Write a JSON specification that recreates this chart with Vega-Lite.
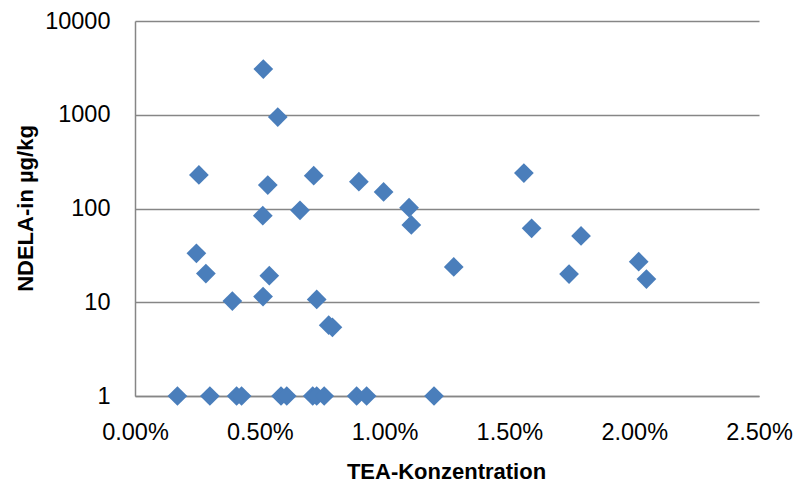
{
  "$schema": "https://vega.github.io/schema/vega-lite/v6.json",
  "autosize": {"type": "none"},
  "padding": {"left": 135, "top": 21, "right": 34, "bottom": 85},
  "width": 624,
  "height": 375,
  "background": "white",
  "config": {
    "view": {"stroke": null},
    "font": "Liberation Sans"
  },
  "data": {
    "values": [
      {"tea": 0.00514, "ndela": 3076},
      {"tea": 0.00572, "ndela": 946},
      {"tea": 0.00256, "ndela": 228},
      {"tea": 0.00532, "ndela": 178},
      {"tea": 0.00716, "ndela": 224},
      {"tea": 0.00897, "ndela": 193},
      {"tea": 0.00996, "ndela": 150},
      {"tea": 0.01098, "ndela": 102},
      {"tea": 0.01107, "ndela": 66.7},
      {"tea": 0.00512, "ndela": 83.8},
      {"tea": 0.00661, "ndela": 95.7},
      {"tea": 0.00246, "ndela": 33.3},
      {"tea": 0.00284, "ndela": 20.2},
      {"tea": 0.00538, "ndela": 19.2},
      {"tea": 0.0039, "ndela": 10.3},
      {"tea": 0.00513, "ndela": 11.5},
      {"tea": 0.00728, "ndela": 10.7},
      {"tea": 0.00776, "ndela": 5.7},
      {"tea": 0.00791, "ndela": 5.4},
      {"tea": 0.0017, "ndela": 1},
      {"tea": 0.003, "ndela": 1},
      {"tea": 0.00407, "ndela": 1},
      {"tea": 0.00427, "ndela": 1},
      {"tea": 0.00585, "ndela": 1},
      {"tea": 0.00608, "ndela": 1},
      {"tea": 0.00712, "ndela": 1},
      {"tea": 0.00728, "ndela": 1},
      {"tea": 0.00758, "ndela": 1},
      {"tea": 0.00888, "ndela": 1},
      {"tea": 0.00928, "ndela": 1},
      {"tea": 0.01198, "ndela": 1},
      {"tea": 0.01558, "ndela": 239},
      {"tea": 0.01589, "ndela": 61.5},
      {"tea": 0.01787, "ndela": 50.9},
      {"tea": 0.01277, "ndela": 23.8},
      {"tea": 0.01739, "ndela": 20.0},
      {"tea": 0.02018, "ndela": 27.1},
      {"tea": 0.02049, "ndela": 17.7}
    ]
  },
  "mark": {"type": "point", "shape": "diamond", "filled": true, "size": 390, "color": "#4a7ebb", "opacity": 1, "clip": false},
  "encoding": {
    "x": {
      "field": "tea",
      "type": "quantitative",
      "scale": {"domain": [0, 0.025], "nice": false, "zero": true},
      "axis": {
        "title": "TEA-Konzentration",
        "values": [0, 0.005, 0.01, 0.015, 0.02, 0.025],
        "format": ".2%",
        "grid": false,
        "ticks": false,
        "domain": true,
        "domainColor": "#868686",
        "domainWidth": 1.5,
        "labelFontSize": 23.5,
        "labelColor": "#000000",
        "labelPadding": 24,
        "labelFlush": false,
        "labelOverlap": false,
        "titleFontSize": 22,
        "titleFontWeight": "bold",
        "titleColor": "#000000",
        "titleBaseline": "alphabetic",
        "titleY": 82,
        "titleX": 311
      }
    },
    "y": {
      "field": "ndela",
      "type": "quantitative",
      "scale": {"type": "log", "domain": [1, 10000], "nice": false},
      "axis": {
        "title": "NDELA-in µg/kg",
        "values": [1, 10, 100, 1000, 10000],
        "format": "d",
        "grid": true,
        "gridColor": "#868686",
        "gridWidth": 1.5,
        "ticks": false,
        "domain": true,
        "domainColor": "#868686",
        "domainWidth": 1.5,
        "labelFontSize": 23.5,
        "labelColor": "#000000",
        "labelPadding": 25,
        "labelFlush": false,
        "labelOverlap": false,
        "titleFontSize": 22,
        "titleFontWeight": "bold",
        "titleColor": "#000000",
        "titleBaseline": "alphabetic",
        "titleX": -103,
        "titleY": 187,
        "titleAngle": -90
      }
    }
  }
}
